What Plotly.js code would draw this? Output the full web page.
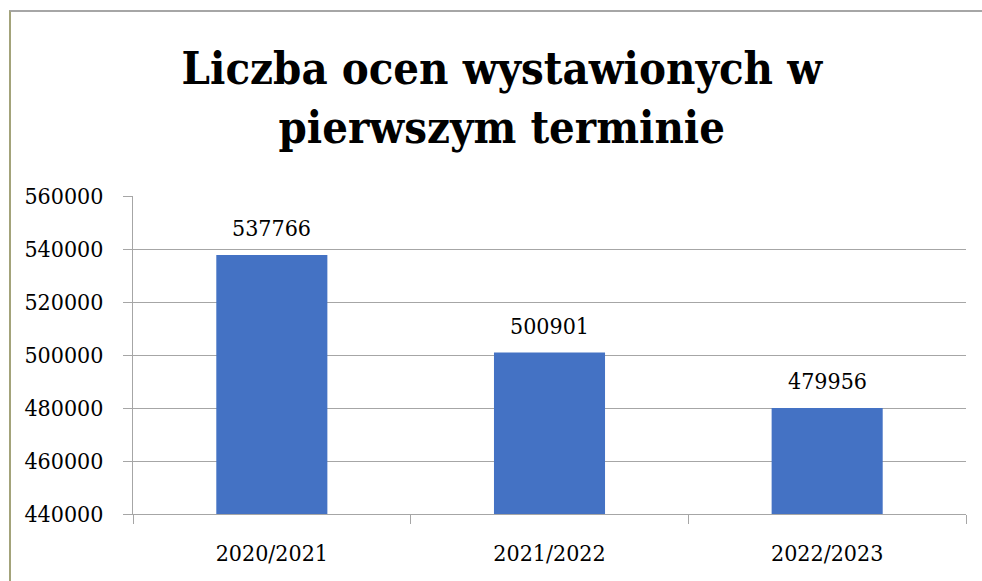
<!DOCTYPE html>
<html><head><meta charset="utf-8">
<script src="https://cdn.plot.ly/plotly-3.0.1.min.js"></script>
<style>
html,body{margin:0;padding:0;background:#fff;}
#wrap{position:relative;width:982px;height:581px;overflow:hidden;}
#chart{width:982px;height:581px;}
#frame{position:absolute;left:9px;top:10px;width:1000px;height:600px;border-left:2px solid #a3a37a;border-top:2px solid #a6a6a6;pointer-events:none;box-sizing:border-box;}
</style></head>
<body>
<div id="wrap"><div id="chart"></div><div id="frame"></div></div>
<script>
const categories = ["2020/2021", "2021/2022", "2022/2023"];
const values = [537766, 500901, 479956];
const labels = ["537766", "500901", "479956"];
const yTicks = [440000, 460000, 480000, 500000, 520000, 540000, 560000];
const yTickText = ["440000", "460000", "480000", "500000", "520000", "540000", "560000"];
const titleText = "Liczba ocen wystawionych w<br>pierwszym terminie";

const font = "DejaVu Serif Condensed";
const grid = "#a6a6a6";

const trace = {
  type: "bar", x: categories, y: values,
  marker: {color: "#4472C4"}, hoverinfo: "none"
};

const annotations = categories.map((c, i) => ({
  x: c, y: values[i], xref: "x", yref: "y",
  text: labels[i], showarrow: false, yanchor: "middle", yshift: 27,
  font: {family: font, size: 23, color: "#000"}
}));

const layout = {
  width: 982, height: 581,
  margin: {l: 133, r: 16, t: 196, b: 67},
  paper_bgcolor: "#fff", plot_bgcolor: "#fff",
  bargap: 0.6, showlegend: false,
  font: {family: font},
  title: {
    text: titleText, xref: "container", yref: "container",
    x: 0.511, xanchor: "center", y: 0.855, yanchor: "top",
    font: {family: font, size: 45, color: "#000", weight: "bold"}
  },
  xaxis: {
    type: "category", tickson: "boundaries", ticks: "outside", ticklen: 9, tickcolor: grid,
    showline: true, linecolor: grid, linewidth: 1, showgrid: false,
    tickfont: {family: font, size: 23, color: "#000"}, ticklabelstandoff: 18,
    fixedrange: true
  },
  yaxis: {
    range: [440000, 560000], tickvals: yTicks, ticktext: yTickText,
    ticks: "outside", ticklen: 9, tickcolor: grid,
    showline: true, linecolor: grid, linewidth: 1,
    showgrid: true, gridcolor: grid, gridwidth: 1, zeroline: false,
    tickfont: {family: font, size: 23, color: "#000"}, ticklabelstandoff: 15,
    fixedrange: true
  },
  annotations: annotations
};

Plotly.newPlot("chart", [trace], layout, {displayModeBar: false, staticPlot: true});
</script>
</body></html>
